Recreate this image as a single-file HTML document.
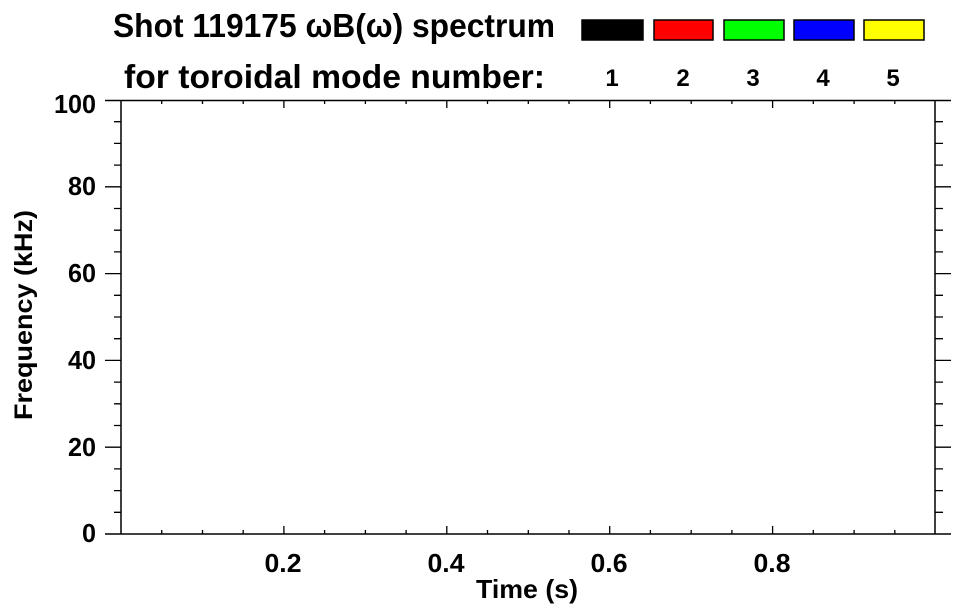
<!DOCTYPE html>
<html><head><meta charset="utf-8"><style>
html,body{margin:0;padding:0;background:#fff;}
svg{display:block;}
text{font-family:"Liberation Sans",sans-serif;font-weight:bold;fill:#000;}
</style></head><body>
<svg width="963" height="615" viewBox="0 0 963 615" xmlns="http://www.w3.org/2000/svg">
<text x="113" y="37" font-size="33" textLength="442" lengthAdjust="spacingAndGlyphs">Shot 119175 ωB(ω) spectrum</text>
<text x="124" y="88" font-size="33" textLength="421" lengthAdjust="spacingAndGlyphs">for toroidal mode number:</text>
<g stroke="#000" stroke-width="1.5">
<rect x="582" y="20" width="61" height="20" fill="#000"/>
<rect x="654" y="20" width="59" height="20" fill="#f00"/>
<rect x="724" y="20" width="60" height="20" fill="#0f0"/>
<rect x="794" y="20" width="60" height="20" fill="#00f"/>
<rect x="864" y="20" width="60" height="20" fill="#ff0"/>
</g>
<g font-size="24" text-anchor="middle">
<text x="612" y="86">1</text><text x="683" y="86">2</text><text x="753" y="86">3</text><text x="823" y="86">4</text><text x="893" y="86">5</text>
</g>
<g stroke="#000" stroke-width="1.5" fill="none">
<line x1="105" y1="100.5" x2="951" y2="100.5"/>
<line x1="105" y1="534" x2="951" y2="534"/>
<line x1="121" y1="100.5" x2="121" y2="534"/>
<line x1="935" y1="100.5" x2="935" y2="534"/>
</g>
<g font-size="26" text-anchor="end">
<text x="96" y="113" textLength="42" lengthAdjust="spacingAndGlyphs">100</text>
<text x="96" y="195" textLength="28" lengthAdjust="spacingAndGlyphs">80</text>
<text x="96" y="282" textLength="28" lengthAdjust="spacingAndGlyphs">60</text>
<text x="96" y="369" textLength="28" lengthAdjust="spacingAndGlyphs">40</text>
<text x="96" y="456" textLength="28" lengthAdjust="spacingAndGlyphs">20</text>
<text x="96" y="542" textLength="14" lengthAdjust="spacingAndGlyphs">0</text>
</g>
<g font-size="26" text-anchor="middle">
<text x="283" y="572" textLength="37" lengthAdjust="spacingAndGlyphs">0.2</text>
<text x="446" y="572" textLength="37" lengthAdjust="spacingAndGlyphs">0.4</text>
<text x="609" y="572" textLength="37" lengthAdjust="spacingAndGlyphs">0.6</text>
<text x="772" y="572" textLength="37" lengthAdjust="spacingAndGlyphs">0.8</text>
<text x="527" y="598" textLength="102" lengthAdjust="spacingAndGlyphs">Time (s)</text>
</g>
<text font-size="25" text-anchor="middle" transform="translate(32,315) rotate(-90)" textLength="210" lengthAdjust="spacingAndGlyphs">Frequency (kHz)</text>
<g stroke="#000" stroke-width="1.3">
<path d="M114 512.3H121M114 490.6H121M114 468.9H121M114 425.5H121M114 403.8H121M114 382.1H121M114 338.7H121M114 317H121M114 295.3H121M114 251.9H121M114 230.2H121M114 208.5H121M114 165.1H121M114 143.4H121M114 121.7H121"/>
<path d="M935 512.3H943M935 490.6H943M935 468.9H943M935 425.5H943M935 403.8H943M935 382.1H943M935 338.7H943M935 317H943M935 295.3H943M935 251.9H943M935 230.2H943M935 208.5H943M935 165.1H943M935 143.4H943M935 121.7H943"/>
<path d="M935 447.2H951M935 360.4H951M935 273.6H951M935 186.8H951"/>
<path d="M105 447.2H121M105 360.4H121M105 273.6H121M105 186.8H121"/>
<path d="M161.7 534V530M202.5 534V530M243.2 534V530M283.9 534V526M324.6 534V530M365.4 534V530M406.1 534V530M446.8 534V526M487.5 534V530M528.3 534V530M569 534V530M609.7 534V526M650.4 534V530M691.2 534V530M731.9 534V530M772.6 534V526M813.3 534V530M854.1 534V530M894.8 534V530"/>
<path d="M161.7 100.5V104M202.5 100.5V104M243.2 100.5V104M283.9 100.5V108M324.6 100.5V104M365.4 100.5V104M406.1 100.5V104M446.8 100.5V108M487.5 100.5V104M528.3 100.5V104M569 100.5V104M609.7 100.5V108M650.4 100.5V104M691.2 100.5V104M731.9 100.5V104M772.6 100.5V108M813.3 100.5V104M854.1 100.5V104M894.8 100.5V104"/>
</g>
</svg>
</body></html>
